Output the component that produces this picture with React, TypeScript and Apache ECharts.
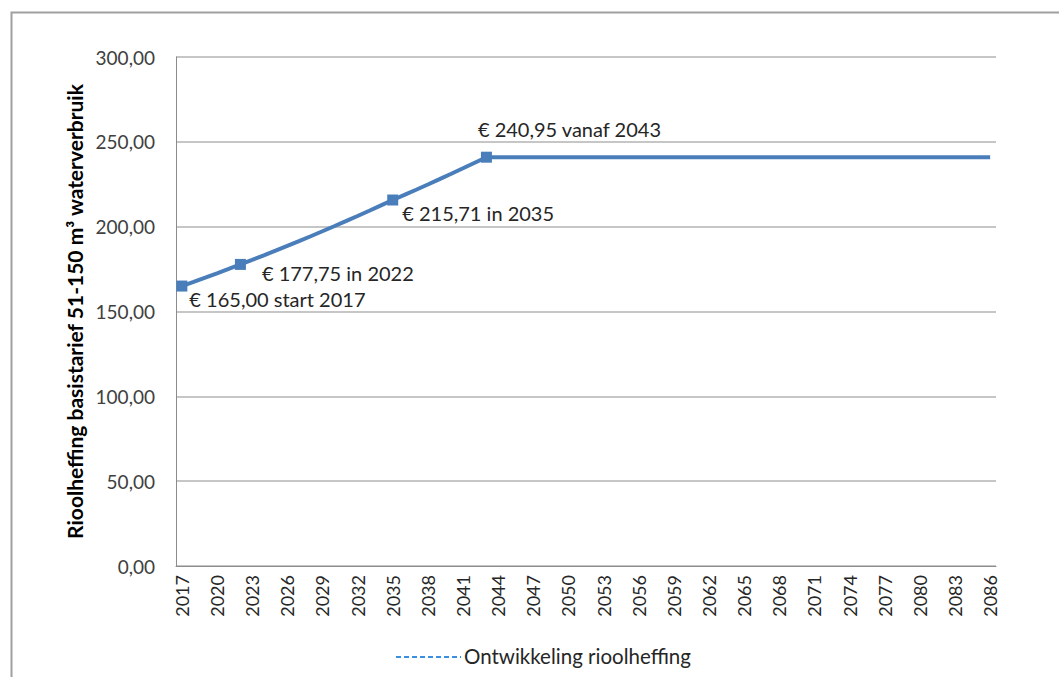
import React, { useEffect, useRef } from "react";
import * as echarts from "echarts";

const years: string[] = [];
for (let y = 2017; y <= 2086; y++) years.push(String(y));

const values: number[] = [
  165.0, 167.48, 169.99, 172.54, 175.13, 177.75, 180.42, 183.12, 185.87, 188.66,
  191.49, 194.36, 197.28, 200.24, 203.24, 206.29, 209.38, 212.52, 215.71, 218.72,
  221.77, 224.86, 228.0, 231.18, 234.41, 237.68, 240.95, 240.95, 240.95, 240.95,
  240.95, 240.95, 240.95, 240.95, 240.95, 240.95, 240.95, 240.95, 240.95, 240.95,
  240.95, 240.95, 240.95, 240.95, 240.95, 240.95, 240.95, 240.95, 240.95, 240.95,
  240.95, 240.95, 240.95, 240.95, 240.95, 240.95, 240.95, 240.95, 240.95, 240.95,
  240.95, 240.95, 240.95, 240.95, 240.95, 240.95, 240.95, 240.95, 240.95, 240.95,
];

const annotationYears = ["2017", "2022", "2035", "2043"];
const annotationTexts = [
  "€ 165,00 start 2017",
  "€ 177,75 in 2022",
  "€ 215,71 in 2035",
  "€ 240,95 vanaf 2043",
];
const labelOffsets: [number, number][] = [
  [13, 18],
  [27, 14],
  [15, 18],
  [-3, -23],
];

const seriesName = "Ontwikkeling rioolheffing";
const yTitle = "Rioolheffing basistarief 51-150 m³ waterverbruik";

export default function App() {
  const ref = useRef<HTMLDivElement>(null);
  useEffect(() => {
    if (!ref.current) return;
    const chart = echarts.init(ref.current, undefined, { renderer: "svg" });
    const font = "Lato, 'Open Sans', sans-serif";
    const data = values.map((v, i) => {
      const k = annotationYears.indexOf(years[i]);
      if (k < 0) return { value: v, symbolSize: 0 };
      return {
        value: v,
        symbolSize: 11,
        label: {
          show: true,
          formatter: annotationTexts[k],
          position: labelOffsets[k],
          align: "left",
          verticalAlign: "middle",
          fontSize: 20,
          fontFamily: font,
          color: "#262626",
        },
      };
    });
    chart.setOption({
      animation: false,
      backgroundColor: "#ffffff",
      grid: { left: 176, right: 63, top: 57, bottom: 111, containLabel: false },
      xAxis: {
        type: "category",
        data: years,
        boundaryGap: true,
        axisLine: { show: true, lineStyle: { color: "#8c8c8c", width: 1 } },
        axisTick: { show: false },
        axisLabel: {
          interval: 2,
          rotate: 90,
          fontSize: 18,
          fontFamily: font,
          color: "#262626",
          margin: 9,
        },
        splitLine: { show: false },
      },
      yAxis: {
        type: "value",
        min: 0,
        max: 300,
        interval: 50,
        name: yTitle,
        nameLocation: "middle",
        nameGap: 91,
        nameTextStyle: {
          fontSize: 21,
          fontWeight: "bold",
          fontFamily: font,
          color: "#000000",
        },
        axisLine: { show: true, lineStyle: { color: "#8c8c8c", width: 1 } },
        axisTick: { show: false },
        axisLabel: {
          formatter: (v: number) => v.toFixed(2).replace(".", ","),
          fontSize: 19,
          fontFamily: font,
          color: "#404040",
          margin: 21,
        },
        splitLine: { show: true, lineStyle: { color: "#b3b3b3", width: 1.5 } },
      },
      series: [
        {
          name: seriesName,
          type: "line",
          data,
          symbol: "rect",
          showSymbol: true,
          showAllSymbol: true,
          color: "#4A7EBB",
          lineStyle: { color: "#4A7EBB", width: 4 },
          itemStyle: { color: "#4A7EBB" },
          label: { show: false },
          labelLayout: { hideOverlap: false },
          emphasis: { disabled: true },
        },
      ],
      graphic: [
        {
          type: "rect",
          left: 9,
          top: 10,
          shape: { width: 1100, height: 700 },
          style: { fill: "none", stroke: "#a0a0a0", lineWidth: 2 },
          silent: true,
        },
        {
          type: "line",
          shape: { x1: 396, y1: 657, x2: 461, y2: 657 },
          style: { stroke: "#3A8FE0", lineWidth: 2, lineDash: [5, 3] },
          silent: true,
        },
        {
          type: "text",
          left: 464,
          top: 645,
          style: {
            text: seriesName,
            fontSize: 20.5,
            fontFamily: font,
            fill: "#262626",
          },
          silent: true,
        },
      ],
    });
    return () => chart.dispose();
  }, []);
  return (
    <div
      ref={ref}
      style={{ position: "fixed", left: 0, top: 0, width: 1059, height: 677 }}
    />
  );
}
